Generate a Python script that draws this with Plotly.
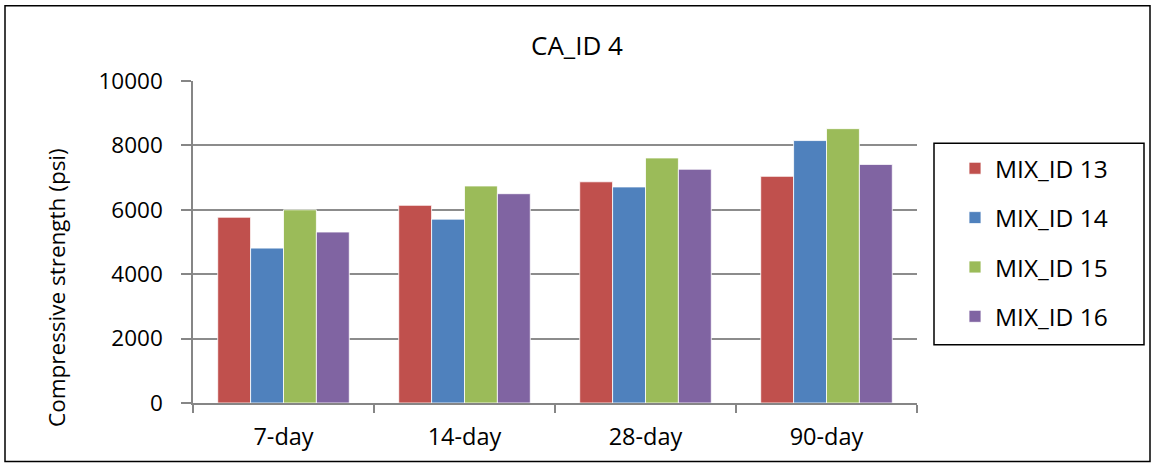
import plotly.graph_objects as go

categories = ["7-day", "14-day", "28-day", "90-day"]
mix13 = [5770, 6140, 6870, 7040]
mix14 = [4810, 5710, 6710, 8150]
mix15 = [6000, 6740, 7610, 8520]
mix16 = [5310, 6500, 7260, 7410]
series_names = ["MIX_ID 13", "MIX_ID 14", "MIX_ID 15", "MIX_ID 16"]
colors = ["#C0504D", "#4F81BD", "#9BBB59", "#8064A2"]
y_ticks = [0, 2000, 4000, 6000, 8000, 10000]
y_tick_labels = ["0", "2000", "4000", "6000", "8000", "10000"]

FONT = "Open Sans"
W, H = 1154, 465
L, R, T, B = 193, 917, 80.5, 403.3
pw, ph = R - L, B - T

def px(x):
    return (x - L) / pw

def py(y):
    return (B - y) / ph

fig = go.Figure()
for i, (name, vals) in enumerate(zip(series_names, [mix13, mix14, mix15, mix16])):
    fig.add_trace(go.Bar(
        x=categories, y=vals, name=name, legendgroup=name,
        marker=dict(color=colors[i], line=dict(color="rgba(255,255,255,0.8)", width=1)),
    ))

fig.update_layout(
    width=W, height=H,
    margin=dict(l=L, r=W - R, t=T, b=H - B, pad=0),
    paper_bgcolor="white", plot_bgcolor="white",
    barmode="group", bargap=0.273, bargroupgap=0,
    font=dict(family=FONT, size=22, color="black"),
    title=dict(text="CA_ID 4", x=0.5, xref="container", y=1 - 46 / H, yref="container",
               xanchor="center", yanchor="middle",
               font=dict(family=FONT, size=26, color="black")),
    showlegend=True,
    legend=dict(x=px(955), y=py(145.5), xanchor="left", yanchor="top",
                bgcolor="rgba(0,0,0,0)", borderwidth=0,
                font=dict(family=FONT, size=24.5, color="black"),
                tracegroupgap=14.5),
    xaxis=dict(showgrid=False, showline=True, linecolor="#868686", linewidth=1.5,
               ticks="outside", tickson="boundaries", ticklen=8, tickcolor="#868686",
               tickwidth=1.5, tickfont=dict(family=FONT, size=23.5), ticklabelstandoff=12),
    yaxis=dict(range=[0, 10000], tickvals=y_ticks, ticktext=y_tick_labels,
               showgrid=True, gridcolor="#8C8C8C",
               gridwidth=1.5, showline=True, linecolor="#868686", linewidth=1.5,
               ticks="outside", ticklen=10, tickcolor="#868686", tickwidth=1.5,
               tickfont=dict(family=FONT, size=22.5), ticklabelstandoff=14,
               zeroline=False),
    annotations=[dict(text="Compressive strength (psi)", textangle=-90,
                      x=px(57), y=py(288), xref="paper", yref="paper",
                      showarrow=False, xanchor="center", yanchor="middle",
                      font=dict(family=FONT, size=22.5, color="black"))],
    shapes=[
        dict(type="rect", xref="paper", yref="paper",
             x0=px(5), x1=px(1150), y0=py(462), y1=py(5),
             line=dict(color="black", width=1.5), fillcolor="rgba(0,0,0,0)", layer="below"),
        dict(type="rect", xref="paper", yref="paper",
             x0=px(934), x1=px(1144), y0=py(345), y1=py(143),
             line=dict(color="black", width=1.5), fillcolor="rgba(0,0,0,0)"),
    ],
)

fig.write_html("out.html")
